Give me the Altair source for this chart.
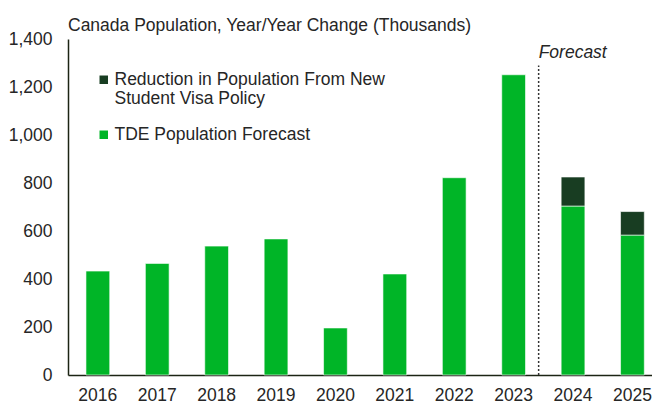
import altair as alt
import pandas as pd

years = ["2016", "2017", "2018", "2019", "2020", "2021", "2022", "2023", "2024", "2025"]
forecast = [433, 465, 537, 567, 196, 421, 822, 1251, 704, 583]
reduction = [0, 0, 0, 0, 0, 0, 0, 0, 121, 98]

s_red = "Reduction in Population From New Student Visa Policy"
s_tde = "TDE Population Forecast"

rows = []
for y, f, r in zip(years, forecast, reduction):
    rows.append({"year": y, "series": s_tde, "value": f, "order": 0})
    if r:
        rows.append({"year": y, "series": s_red, "value": r, "order": 1})
df = pd.DataFrame(rows)

FONT = "Liberation Sans"
TXT = "#262626"
FS = 17.5
GAP = 22.5

bars = alt.Chart(df).mark_bar(stroke="white", strokeWidth=0.6).encode(
    x=alt.X("year:N", sort=years, title=None,
            scale=alt.Scale(paddingInner=0.6, paddingOuter=0.216, align=0.7),
            axis=alt.Axis(labelAngle=0, ticks=False, domainColor="#1c2414", domainWidth=1.5,
                          labelFont=FONT, labelFontSize=FS, labelColor=TXT, labelPadding=11)),
    y=alt.Y("value:Q", stack="zero", title=None,
            scale=alt.Scale(domain=[0, 1400], nice=False),
            axis=alt.Axis(values=list(range(0, 1401, 200)), format=",d", ticks=False, grid=False,
                          domainColor="#1c2414", domainWidth=1.5, labelFont=FONT,
                          labelFontSize=FS, labelColor=TXT, labelPadding=16)),
    color=alt.Color("series:N", sort=[s_red, s_tde],
                    scale=alt.Scale(domain=[s_red, s_tde], range=["#183d22", "#00b527"]),
                    legend=alt.Legend(title=None, orient="none", legendX=27, legendY=32,
                                      symbolType="square", symbolSize=72, symbolStrokeWidth=0,
                                      labelFont=FONT, labelFontSize=FS, labelColor=TXT,
                                      labelLimit=400, rowPadding=17, symbolOffset=0, labelOffset=2,
                                      labelExpr="datum.label == '" + s_red + "' ? ['Reduction in Population From New', 'Student Visa Policy'] : datum.label")),
    order=alt.Order("order:Q", sort="ascending"),
)

fc = pd.DataFrame({"year": ["2024"], "zero": [0], "top": [1290], "label_y": [1340], "label": ["Forecast"]})
rule = alt.Chart(fc).mark_rule(strokeDash=[2, 2], strokeWidth=1.5, color="#333333",
                               xOffset=-GAP).encode(
    x=alt.X("year:N", sort=years, bandPosition=0),
    y=alt.Y("zero:Q"),
    y2="top:Q",
)
txt = alt.Chart(fc).mark_text(align="left", baseline="middle", fontStyle="italic",
                              font=FONT, fontSize=FS, color=TXT, xOffset=-GAP).encode(
    x=alt.X("year:N", sort=years, bandPosition=0),
    y=alt.Y("label_y:Q"),
    text="label:N",
)

chart = alt.layer(bars, rule, txt).properties(
    width=584, height=336,
    title=alt.TitleParams("Canada Population, Year/Year Change (Thousands)", anchor="start",
                          frame="group", font=FONT, fontSize=FS, fontWeight="normal",
                          color=TXT, offset=-4),
    autosize=alt.AutoSizeParams(type="none"),
    padding={"left": 60, "top": 31, "right": 0, "bottom": 29},
).configure_view(stroke=None)

chart.save("out.html", embed_options={"renderer": "svg", "actions": False})
